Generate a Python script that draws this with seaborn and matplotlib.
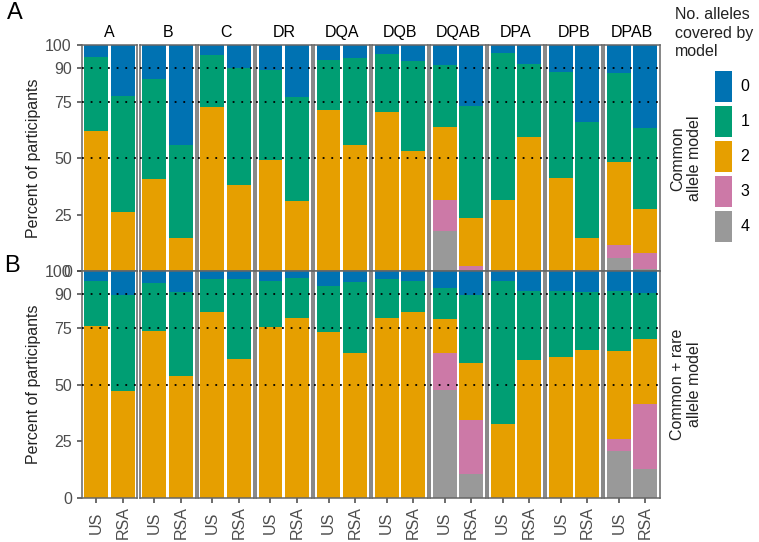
import numpy as np
import pandas as pd
import matplotlib
matplotlib.use("Agg")
import matplotlib.pyplot as plt
from matplotlib.patches import Patch
import seaborn as sns

loci = ["A", "B", "C", "DR", "DQA", "DQB", "DQAB", "DPA", "DPB", "DPAB"]
populations = ["US", "RSA"]
n_alleles = ["0", "1", "2", "3", "4"]
allele_colors = ["#0072B2", "#009E73", "#E69F00", "#CC79A7", "#999999"]
models = ["common", "rare"]
model_labels = ["Common\nallele model", "Common + rare\nallele model"]

# percent of participants, locus by locus as (US, RSA)
common_0 = [5.5, 22.5, 15.1, 44.2, 4.3, 10.2, 10.9, 23.0, 6.6, 5.8,
            4.0, 7.1, 8.9, 26.9, 3.7, 8.3, 12.0, 34.0, 12.3, 36.6]
common_1 = [32.6, 51.4, 44.0, 41.2, 23.2, 51.4, 39.9, 45.7, 21.9, 38.4,
            25.4, 39.7, 27.1, 49.5, 64.7, 32.2, 46.9, 51.4, 39.4, 35.8]
common_2 = [61.9, 26.1, 40.9, 14.6, 72.5, 38.4, 49.2, 31.3, 71.5, 55.8,
            70.6, 53.2, 32.4, 21.1, 31.6, 59.5, 41.1, 14.6, 36.5, 19.3]
common_3 = [0, 0, 0, 0, 0, 0, 0, 0, 0, 0,
            0, 0, 13.7, 2.5, 0, 0, 0, 0, 5.7, 7.3]
common_4 = [0, 0, 0, 0, 0, 0, 0, 0, 0, 0,
            0, 0, 17.9, 0, 0, 0, 0, 0, 6.1, 1.0]

rare_0 = [4.1, 10.2, 4.9, 9.1, 3.5, 3.2, 4.3, 2.7, 6.6, 4.6,
          3.5, 4.1, 7.1, 10.2, 4.0, 8.7, 8.6, 9.1, 8.7, 9.7]
rare_1 = [19.8, 42.6, 21.5, 37.2, 14.6, 35.4, 20.3, 17.9, 20.1, 31.5,
          17.1, 13.9, 14.0, 30.4, 63.3, 30.5, 29.3, 25.6, 26.4, 19.9]
rare_2 = [76.1, 47.2, 73.6, 53.7, 81.9, 61.4, 75.4, 79.4, 73.3, 63.9,
          79.4, 82.0, 14.7, 25.0, 32.7, 60.8, 62.1, 65.3, 38.9, 28.8]
rare_3 = [0, 0, 0, 0, 0, 0, 0, 0, 0, 0,
          0, 0, 16.6, 23.6, 0, 0, 0, 0, 5.4, 28.9]
rare_4 = [0, 0, 0, 0, 0, 0, 0, 0, 0, 0,
          0, 0, 47.6, 10.8, 0, 0, 0, 0, 20.6, 12.7]

series = {
    "common": [common_0, common_1, common_2, common_3, common_4],
    "rare": [rare_0, rare_1, rare_2, rare_3, rare_4],
}

rows = []
for model in models:
    for k, vals in zip(n_alleles, series[model]):
        for i, v in enumerate(vals):
            rows.append({"model": model, "locus": loci[i // 2],
                         "population": populations[i % 2],
                         "n_alleles": k, "percent": v})
df = pd.DataFrame(rows)

# stack with 4 at the bottom and 0 on top
df = df.sort_values(["model", "locus", "population", "n_alleles"], ascending=[True, True, True, False])
df["top"] = df.groupby(["model", "locus", "population"])["percent"].cumsum()

plt.rcParams["font.family"] = ["Liberation Sans", "DejaVu Sans"]
grey = "#4d4d4d"
fs = 11.5

fig, axes = plt.subplots(2, 10, sharey=True, figsize=(7.59, 5.42), dpi=100)
fig.subplots_adjust(left=0.1076, right=0.8696, top=0.917, bottom=0.0812, wspace=0.04, hspace=0)

for r, model in enumerate(models):
    for c, locus in enumerate(loci):
        ax = axes[r, c]
        sub = df[(df["model"] == model) & (df["locus"] == locus)]
        for k, col in zip(n_alleles, allele_colors):
            sns.barplot(data=sub[sub["n_alleles"] == k], x="population", y="top",
                        order=populations, color=col, width=0.9, saturation=1,
                        errorbar=None, linewidth=0, ax=ax)
        for yv in [50, 75, 90]:
            ax.axhline(yv, color="black", linestyle=(0, (1, 3.8)), linewidth=1.3, zorder=5)
        ax.set_xlim(-0.55, 1.55)
        ax.set_ylim(0, 100)
        ax.set_xlabel("")
        ax.set_ylabel("")
        for sp in ax.spines.values():
            sp.set_color("#666666")
            sp.set_linewidth(1.1)
            sp.set_visible(True)
        ax.tick_params(axis="both", colors="#444444", labelcolor=grey, labelsize=fs,
                       length=3.6, width=1.1)
        if r == 0:
            ax.set_title(locus, fontsize=fs, pad=6)
            ax.tick_params(axis="x", bottom=False, labelbottom=False)
        else:
            ax.tick_params(axis="x", pad=14)
            for lab in ax.get_xticklabels():
                lab.set_rotation(90)
                lab.set_va("center")
        if c == 0:
            ax.set_yticks([0, 25, 50, 75, 90, 100])
            ax.set_ylabel("Percent of participants", fontsize=fs, color="#222222", labelpad=3)
        else:
            ax.tick_params(axis="y", left=False, labelleft=False)

# row labels on the right
for r, lab in enumerate(model_labels):
    pos = axes[r, -1].get_position()
    fig.text(686 / 759, (pos.y0 + pos.y1) / 2, lab, rotation=90, ha="center", va="center",
             multialignment="center", fontsize=fs, color="#222222")

fig.text(7 / 759, 1 - 2 / 542, "A", fontsize=17, va="top", ha="left")
fig.text(4 / 759, 1 - 255 / 542, "B", fontsize=17, va="top", ha="left")

fig.text(675 / 759, 1 - 7 / 542, "No. alleles\ncovered by\nmodel", fontsize=fs,
         va="top", ha="left", linespacing=1.3, color="#222222")
handles = [Patch(facecolor=col, edgecolor="none") for col in allele_colors]
fig.legend(handles, n_alleles, loc="upper left", bbox_to_anchor=(715 / 759, 1 - 71 / 542),
           frameon=False, fontsize=fs, handlelength=1.06, handleheight=2.6,
           labelspacing=0.25, handletextpad=0.55, borderpad=0, borderaxespad=0)

fig.savefig("out.png", dpi=100)
